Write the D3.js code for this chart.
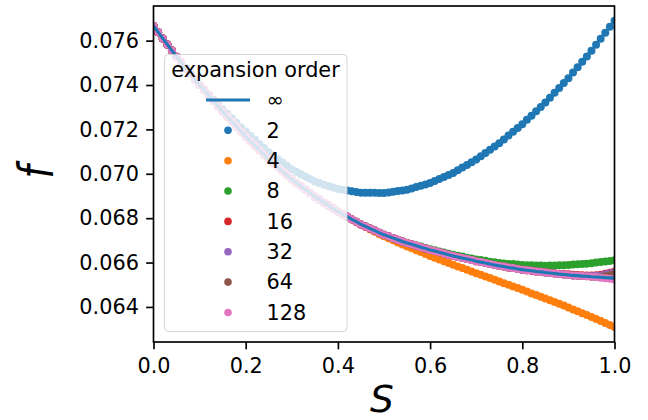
<!DOCTYPE html>
<html lang="en">
<head>
<meta charset="UTF-8">
<title>f against S for each expansion order</title>
<script src="https://d3js.org/d3.v7.min.js"></script>
<style>
  body { margin: 0; background: #fff; }
  svg text { font-family: "DejaVu Sans", sans-serif; fill: #000; }
  .axis-title { font-size: 37.5px; font-style: italic; }
  .legend-text { font-size: 20.8px; }
</style>
</head>
<body>
<svg id="chart" width="648" height="420"></svg>
<script>
  // s grid: 101 points, step 0.01
  const sValues = d3.range(101).map(i => i / 100);

  // converged curve (solid line)
  const fInf = [
    0.07666, 0.07638, 0.07610, 0.07583, 0.07555, 0.07527, 0.07502, 0.07476, 0.07451, 0.07425,
    0.07400, 0.07376, 0.07352, 0.07328, 0.07304, 0.07280, 0.07258, 0.07235, 0.07213, 0.07190,
    0.07168, 0.07147, 0.07127, 0.07106, 0.07086, 0.07065, 0.07047, 0.07029, 0.07011, 0.06993,
    0.06975, 0.06959, 0.06944, 0.06928, 0.06913, 0.06897, 0.06884, 0.06870, 0.06857, 0.06843,
    0.06830, 0.06818, 0.06807, 0.06795, 0.06784, 0.06772, 0.06763, 0.06753, 0.06744, 0.06734,
    0.06725, 0.06718, 0.06710, 0.06703, 0.06695, 0.06688, 0.06682, 0.06676, 0.06669, 0.06663,
    0.06657, 0.06652, 0.06646, 0.06641, 0.06635, 0.06630, 0.06625, 0.06620, 0.06616, 0.06611,
    0.06606, 0.06602, 0.06598, 0.06593, 0.06589, 0.06585, 0.06582, 0.06578, 0.06575, 0.06571,
    0.06568, 0.06565, 0.06563, 0.06560, 0.06558, 0.06555, 0.06553, 0.06551, 0.06548, 0.06546,
    0.06544, 0.06542, 0.06541, 0.06539, 0.06538, 0.06536, 0.06535, 0.06534, 0.06532, 0.06531,
    0.06530
  ];

  const f2 = [
    0.07666, 0.07638, 0.07610, 0.07582, 0.07554, 0.07526, 0.07501, 0.07476, 0.07450, 0.07425,
    0.07400, 0.07378, 0.07356, 0.07334, 0.07312, 0.07290, 0.07270, 0.07250, 0.07230, 0.07210,
    0.07190, 0.07171, 0.07153, 0.07134, 0.07116, 0.07097, 0.07082, 0.07066, 0.07051, 0.07035,
    0.07020, 0.07009, 0.06998, 0.06987, 0.06976, 0.06965, 0.06958, 0.06951, 0.06945, 0.06938,
    0.06931, 0.06928, 0.06925, 0.06921, 0.06918, 0.06915, 0.06915, 0.06914, 0.06914, 0.06913,
    0.06913, 0.06916, 0.06919, 0.06922, 0.06925, 0.06928, 0.06934, 0.06940, 0.06946, 0.06952,
    0.06958, 0.06967, 0.06976, 0.06986, 0.06995, 0.07004, 0.07016, 0.07028, 0.07040, 0.07052,
    0.07064, 0.07079, 0.07094, 0.07108, 0.07123, 0.07138, 0.07155, 0.07172, 0.07189, 0.07206,
    0.07223, 0.07243, 0.07262, 0.07282, 0.07301, 0.07321, 0.07343, 0.07365, 0.07387, 0.07409,
    0.07431, 0.07456, 0.07480, 0.07505, 0.07529, 0.07554, 0.07581, 0.07608, 0.07636, 0.07663,
    0.07690
  ];

  const f4 = [
    0.07666, 0.07638, 0.07610, 0.07583, 0.07555, 0.07527, 0.07502, 0.07476, 0.07451, 0.07425,
    0.07400, 0.07376, 0.07352, 0.07328, 0.07304, 0.07280, 0.07258, 0.07235, 0.07213, 0.07190,
    0.07168, 0.07147, 0.07127, 0.07106, 0.07086, 0.07065, 0.07047, 0.07029, 0.07011, 0.06993,
    0.06975, 0.06959, 0.06944, 0.06928, 0.06913, 0.06897, 0.06884, 0.06870, 0.06857, 0.06843,
    0.06829, 0.06817, 0.06805, 0.06794, 0.06782, 0.06770, 0.06760, 0.06749, 0.06739, 0.06728,
    0.06718, 0.06709, 0.06700, 0.06690, 0.06681, 0.06672, 0.06664, 0.06655, 0.06647, 0.06638,
    0.06630, 0.06622, 0.06614, 0.06606, 0.06598, 0.06590, 0.06582, 0.06575, 0.06567, 0.06560,
    0.06552, 0.06545, 0.06537, 0.06530, 0.06522, 0.06515, 0.06507, 0.06500, 0.06492, 0.06485,
    0.06477, 0.06469, 0.06461, 0.06454, 0.06446, 0.06438, 0.06430, 0.06422, 0.06414, 0.06406,
    0.06398, 0.06389, 0.06381, 0.06372, 0.06364, 0.06355, 0.06346, 0.06337, 0.06328, 0.06319,
    0.06310
  ];

  const f8 = [
    0.07666, 0.07638, 0.07610, 0.07583, 0.07555, 0.07527, 0.07502, 0.07476, 0.07451, 0.07425,
    0.07400, 0.07376, 0.07352, 0.07328, 0.07304, 0.07280, 0.07258, 0.07235, 0.07213, 0.07190,
    0.07168, 0.07147, 0.07127, 0.07106, 0.07086, 0.07065, 0.07047, 0.07029, 0.07011, 0.06993,
    0.06975, 0.06959, 0.06944, 0.06928, 0.06913, 0.06897, 0.06884, 0.06870, 0.06857, 0.06843,
    0.06830, 0.06818, 0.06807, 0.06795, 0.06784, 0.06772, 0.06763, 0.06753, 0.06744, 0.06734,
    0.06725, 0.06718, 0.06710, 0.06703, 0.06695, 0.06689, 0.06683, 0.06677, 0.06672, 0.06666,
    0.06660, 0.06655, 0.06650, 0.06645, 0.06640, 0.06635, 0.06631, 0.06627, 0.06622, 0.06618,
    0.06614, 0.06611, 0.06608, 0.06604, 0.06601, 0.06598, 0.06596, 0.06594, 0.06593, 0.06591,
    0.06589, 0.06588, 0.06588, 0.06587, 0.06587, 0.06586, 0.06587, 0.06587, 0.06588, 0.06588,
    0.06589, 0.06591, 0.06592, 0.06594, 0.06595, 0.06597, 0.06600, 0.06602, 0.06605, 0.06607,
    0.06610
  ];

  // higher orders sit on the converged curve except for the last few points
  const tail16 = [0.06556, 0.06554, 0.06552, 0.06550, 0.06548, 0.06547, 0.06545, 0.06544,
                  0.06543, 0.06542, 0.06542, 0.06543, 0.06545, 0.06549, 0.06554, 0.06560];
  const tail32 = [0.06539, 0.06539, 0.06540, 0.06542, 0.06546, 0.06551, 0.06556];
  const tail64 = [0.06535, 0.06538, 0.06543, 0.06550];
  const tail128 = [0.06531, 0.06529, 0.06527, 0.06524];

  const f16 = fInf.slice(0, 101 - tail16.length).concat(tail16);
  const f32 = fInf.slice(0, 101 - tail32.length).concat(tail32);
  const f64 = fInf.slice(0, 101 - tail64.length).concat(tail64);
  const f128 = fInf.slice(0, 101 - tail128.length).concat(tail128);

  const orderLabels = ["2", "4", "8", "16", "32", "64", "128"];
  const orderValues = [f2, f4, f8, f16, f32, f64, f128];
  const colors = ["#1f77b4", "#ff7f0e", "#2ca02c", "#d62728", "#9467bd", "#8c564b", "#e377c2"];

  const xTicks = [0, 0.2, 0.4, 0.6, 0.8, 1.0];
  const yTicks = [0.064, 0.066, 0.068, 0.070, 0.072, 0.074, 0.076];

  // plot area
  const plotLeft = 153.5, plotRight = 614.5, plotTop = 6, plotBottom = 342;

  const svg = d3.select("#chart");

  const x = d3.scaleLinear().domain([0, 1]).range([plotLeft, plotRight]);
  const y = d3.scaleLinear().domain([0.06242, 0.07756]).range([plotBottom, plotTop]);

  svg.append("defs").append("clipPath")
      .attr("id", "plot-clip")
      .append("rect")
      .attr("x", plotLeft).attr("y", plotTop)
      .attr("width", plotRight - plotLeft).attr("height", plotBottom - plotTop);

  const plot = svg.append("g").attr("clip-path", "url(#plot-clip)");

  // scatter series, one per expansion order
  orderValues.forEach(function(vals, k) {
      plot.append("g")
          .selectAll("circle")
          .data(vals)
          .enter()
          .append("circle")
          .attr("cx", (d, i) => x(sValues[i]))
          .attr("cy", d => y(d))
          .attr("r", 4)
          .attr("fill", colors[k]);
  });

  // converged solution as a line on top
  const line = d3.line()
      .x((d, i) => x(sValues[i]))
      .y(d => y(d));

  plot.append("path")
      .datum(fInf)
      .attr("d", line)
      .attr("fill", "none")
      .attr("stroke", "#1f77b4")
      .attr("stroke-width", 3.1);

  // axes
  const xAxis = svg.append("g")
      .attr("transform", "translate(0," + plotBottom + ")")
      .call(d3.axisBottom(x).tickValues(xTicks).tickFormat(d3.format(".1f"))
          .tickSize(7.3).tickSizeOuter(0).tickPadding(9));

  const yAxis = svg.append("g")
      .attr("transform", "translate(" + plotLeft + ",0)")
      .call(d3.axisLeft(y).tickValues(yTicks).tickFormat(d3.format(".3f"))
          .tickSize(7.3).tickSizeOuter(0).tickPadding(7.3));

  [xAxis, yAxis].forEach(function(a) {
      a.attr("font-size", 20.8).attr("font-family", "DejaVu Sans, sans-serif");
      a.select(".domain").remove();
      a.selectAll(".tick line").attr("stroke", "#000").attr("stroke-width", 1.67);
      a.selectAll(".tick text").attr("fill", "#000");
  });

  // frame
  svg.append("rect")
      .attr("x", plotLeft).attr("y", plotTop)
      .attr("width", plotRight - plotLeft).attr("height", plotBottom - plotTop)
      .attr("fill", "none")
      .attr("stroke", "#000")
      .attr("stroke-width", 1.67);

  // axis titles
  svg.append("text")
      .attr("class", "axis-title")
      .attr("x", (plotLeft + plotRight) / 2 - 2)
      .attr("y", 412)
      .attr("text-anchor", "middle")
      .text("S");

  svg.append("text")
      .attr("class", "axis-title")
      .attr("transform", "translate(53,172) rotate(-90) scale(1,1.3)")
      .attr("text-anchor", "middle")
      .text("f");

  // legend
  const legend = svg.append("g");

  legend.append("rect")
      .attr("x", 164.5).attr("y", 54.5)
      .attr("width", 182.5).attr("height", 277)
      .attr("rx", 4)
      .attr("fill", "#fff").attr("fill-opacity", 0.8)
      .attr("stroke", "#ccc").attr("stroke-opacity", 0.8);

  legend.append("text")
      .attr("class", "legend-text")
      .attr("x", 255.5).attr("y", 77)
      .attr("text-anchor", "middle")
      .text("expansion order");

  const rowY = i => 100 + i * 30.35;

  legend.append("line")
      .attr("x1", 206).attr("x2", 250)
      .attr("y1", rowY(0)).attr("y2", rowY(0))
      .attr("stroke", "#1f77b4").attr("stroke-width", 3.1);

  legend.append("text")
      .attr("class", "legend-text")
      .attr("x", 266.5).attr("y", rowY(0))
      .attr("dy", "0.35em")
      .text("\u221e");

  orderLabels.forEach(function(lab, k) {
      legend.append("circle")
          .attr("cx", 228).attr("cy", rowY(k + 1))
          .attr("r", 3.8)
          .attr("fill", colors[k]);
      legend.append("text")
          .attr("class", "legend-text")
          .attr("x", 266.5).attr("y", rowY(k + 1))
          .attr("dy", "0.35em")
          .text(lab);
  });
</script>
</body>
</html>
